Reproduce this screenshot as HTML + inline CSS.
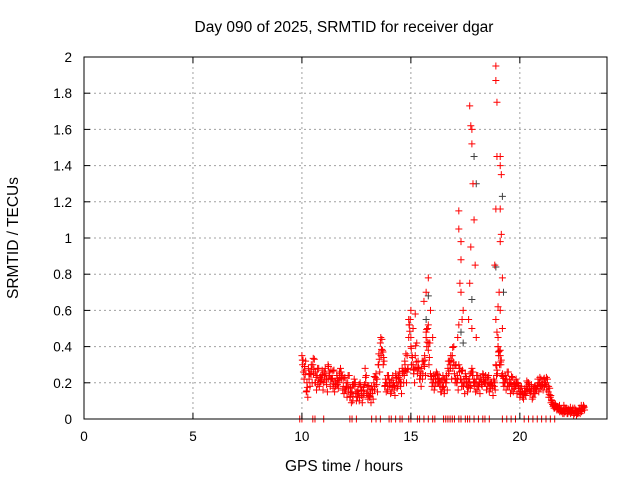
<!DOCTYPE html>
<html><head><meta charset="utf-8"><style>
body{margin:0;background:#fff}
svg{display:block;font-family:"Liberation Sans",sans-serif}
</style></head><body>
<svg id="chart" width="640" height="480">
<rect width="640" height="480" fill="#fff"/>
<g id="grid"></g>
<g id="marks"></g>
<rect x="84" y="57" width="523" height="362" fill="none" stroke="#000" stroke-width="1"/>
<g id="ticks"></g>
<text x="344" y="32" font-size="15.5" text-anchor="middle">Day 090 of 2025, SRMTID for receiver dgar</text>
<text x="344" y="471" font-size="15.5" text-anchor="middle">GPS time / hours</text>
<text x="18" y="238" font-size="15.5" text-anchor="middle" transform="rotate(-90 18 238)">SRMTID / TECUs</text>
</svg>
<script>
const xTicks=[0,5,10,15,20];
const yTicks=[0,0.2,0.4,0.6,0.8,1,1.2,1.4,1.6,1.8,2];
const yTickLabels=["0","0.2","0.4","0.6","0.8","1","1.2","1.4","1.6","1.8","2"];
const baseStart=10.0, baseStep=0.1;
const valsA=[0.35,0.22,0.15,0.28,0.25,0.30,0.20,0.24,0.18,0.22,
0.20,0.25,0.30,0.18,0.22,0.15,0.24,0.20,0.26,0.18,
0.16,0.20,0.12,0.15,0.22,0.10,0.14,0.18,0.12,0.28,
0.15,0.12,0.18,0.20,0.25,0.30,0.42,0.38,0.18,0.20,
0.22,0.15,0.20,0.25,0.18,0.22,0.28,0.24,0.20,0.45,
0.40,0.30,0.35,0.25,0.22,0.28,0.30,0.45,0.38,0.25,
0.20,0.18,0.25,0.22,0.15,0.18,0.20,0.28,0.30,0.35,
0.25,0.20,0.30,0.22,0.18,0.25,0.15,0.20,0.28,0.22,
0.20,0.18,0.22,0.25,0.20,0.18,0.15,0.20,0.22,0.30,
0.40,0.35,0.25,0.20,0.22,0.18,0.20,0.15,0.18,0.20,
0.12,0.15,0.14,0.18,0.20,0.15,0.12,0.14,0.18,0.20,
0.18,0.22,0.20,0.15,0.12,0.08,0.06,0.05,0.06,0.04,
0.05,0.04,0.03,0.05,0.04,0.03,0.02,0.04,0.05,0.06];
const valsB=[0.30,0.27,0.20,0.22,0.30,0.25,0.26,0.19,0.23,0.27,
0.24,0.19,0.22,0.27,0.17,0.21,0.19,0.25,0.22,0.14,
0.20,0.15,0.17,0.10,0.18,0.14,0.10,0.13,0.16,0.20,
0.11,0.16,0.14,0.16,0.19,0.36,0.35,0.30,0.22,0.16,
0.18,0.20,0.16,0.20,0.23,0.18,0.25,0.30,0.35,0.52,
0.30,0.25,0.28,0.32,0.26,0.22,0.35,0.40,0.30,0.22,
0.24,0.22,0.20,0.18,0.20,0.14,0.24,0.25,0.35,0.28,
0.20,0.24,0.26,0.18,0.22,0.20,0.20,0.17,0.24,0.18,
0.16,0.22,0.19,0.21,0.24,0.22,0.19,0.17,0.18,0.24,
0.35,0.30,0.20,0.24,0.18,0.22,0.16,0.19,0.22,0.17,
0.15,0.12,0.17,0.15,0.16,0.19,0.16,0.18,0.22,0.17,
0.20,0.18,0.16,0.12,0.09,0.07,0.08,0.06,0.04,0.05,
0.03,0.06,0.05,0.03,0.06,0.05,0.04,0.06,0.04,0.07];
const valsC=[0.26,0.32,0.12,0.18,0.20,0.33,0.16,0.28,0.24,0.16,
0.28,0.15,0.24,0.22,0.27,0.19,0.17,0.28,0.16,0.23,
0.12,0.24,0.09,0.19,0.14,0.16,0.20,0.09,0.19,0.14,
0.18,0.09,0.11,0.23,0.15,0.26,0.44,0.32,0.15,0.24,
0.14,0.24,0.13,0.17,0.26,0.14,0.20,0.36,0.28,0.55,
0.34,0.20,0.42,0.28,0.18,0.32,0.24,0.50,0.42,0.18,
0.16,0.26,0.20,0.15,0.24,0.22,0.16,0.32,0.22,0.40,
0.30,0.16,0.22,0.27,0.14,0.18,0.22,0.26,0.20,0.15,
0.24,0.14,0.18,0.20,0.16,0.24,0.20,0.13,0.16,0.25,
0.30,0.24,0.18,0.16,0.26,0.14,0.23,0.20,0.14,0.15,
0.18,0.11,0.13,0.20,0.14,0.11,0.18,0.16,0.15,0.22,
0.16,0.19,0.22,0.17,0.10,0.06,0.07,0.05,0.05,0.03,
0.06,0.03,0.04,0.04,0.02,0.05,0.03,0.03,0.06,0.05];
const spikeT=[14.9,15.0,15.1,15.0,15.2,15.6,15.7,15.8,15.9,15.8,15.7,16.0,
17.2,17.2,17.3,17.3,17.25,17.4,17.2,17.3,17.15,17.35,
17.7,17.75,17.8,17.8,17.85,17.9,17.75,17.95,17.7,17.65,17.8,18.0,
18.9,18.9,18.95,18.95,18.9,18.85,19.0,18.9,18.95,19.0,
19.1,19.1,19.15,19.1,19.15,19.1,19.2,19.05,19.1,19.2,19.0,19.1];
const spikeV=[0.55,0.60,0.50,0.45,0.58,0.65,0.70,0.78,0.60,0.52,0.48,0.45,
1.15,1.05,0.98,0.88,0.75,0.60,0.52,0.70,0.45,0.55,
1.73,1.62,1.60,1.52,1.30,1.10,0.95,0.85,0.75,0.55,0.50,0.45,
1.95,1.87,1.75,1.45,1.16,0.85,0.62,0.55,0.48,0.40,
1.45,1.40,1.35,1.16,1.02,0.98,0.78,0.70,0.60,0.50,0.45,0.38];
const zeroT=[9.9,10.0,10.5,10.6,11.0,12.2,12.3,12.5,13.2,13.4,13.6,14.0,14.1,14.3,14.5,14.6,14.9,15.0,15.3,15.4,15.6,15.8,16.0,16.1,
16.5,16.6,16.7,16.8,16.9,17.0,17.2,17.3,17.5,17.6,17.7,17.9,18.1,18.3,18.4,18.6,19.2,19.4,19.6,19.8,20.2,20.4,20.6,20.8,21.0,21.2,21.4,21.6];
const grayT=[17.4,17.8,17.9,18.0,18.9,19.2,19.25,15.8,15.7,17.3];
const grayV=[0.42,0.66,1.45,1.3,0.84,1.23,0.7,0.68,0.55,0.48];

const X=t=>84+t*(523/24), Y=v=>419-v*181;
const ns="http://www.w3.org/2000/svg";
const grid=document.getElementById('grid'),ticks=document.getElementById('ticks'),marks=document.getElementById('marks');
function mk(tag,attrs,parent){const e=document.createElementNS(ns,tag);for(const k in attrs)e.setAttribute(k,attrs[k]);parent.appendChild(e);return e;}
xTicks.forEach(t=>{
 const l=mk('line',{x1:X(t),x2:X(t),y1:57,y2:419,stroke:'#a0a0a0','stroke-dasharray':'2,3'},grid);
 
 
 mk('line',{x1:X(t),x2:X(t),y1:419,y2:413,stroke:'#000'},ticks);
 mk('line',{x1:X(t),x2:X(t),y1:57,y2:63,stroke:'#000'},ticks);
 const tx=mk('text',{x:X(t),y:441,'font-size':13.5,'text-anchor':'middle'},ticks);
 tx.textContent=t;
 
 
});
yTicks.forEach((v,i)=>{
 const l=mk('line',{x1:84,x2:607,y1:Y(v),y2:Y(v),stroke:'#a0a0a0','stroke-dasharray':'2,3'},grid);
 
 
 mk('line',{x1:84,x2:90,y1:Y(v),y2:Y(v),stroke:'#000'},ticks);
 mk('line',{x1:601,x2:607,y1:Y(v),y2:Y(v),stroke:'#000'},ticks);
 const tx=mk('text',{x:72,y:Y(v)+5,'font-size':13.5,'text-anchor':'end'},ticks);
 tx.textContent=yTickLabels[i];
 
 
});
function plus(t,v,c){
 const p=mk('path',{d:`M${X(t)-3.5},${Y(v)}h7M${X(t)},${Y(v)-3.5}v7`,stroke:c,'stroke-width':1,fill:'none'},marks);
 
 
}
grayT.forEach((t,i)=>plus(t,grayV[i],'#404040'));
valsA.forEach((v,i)=>{const t=baseStart+i*baseStep;plus(t,v,'red');plus(t+0.05,(v+valsB[i])/2,'red');});
valsB.forEach((v,i)=>plus(baseStart+i*baseStep+0.03,v,'red'));
valsC.forEach((v,i)=>{const t=baseStart+i*baseStep+0.07;plus(t,v,'red');plus(t-0.05,(v+valsA[i])/2+0.02,'red');});
spikeT.forEach((t,i)=>plus(t,spikeV[i],'red'));
zeroT.forEach(t=>plus(t,0,'red'));
</script>
</body></html>
